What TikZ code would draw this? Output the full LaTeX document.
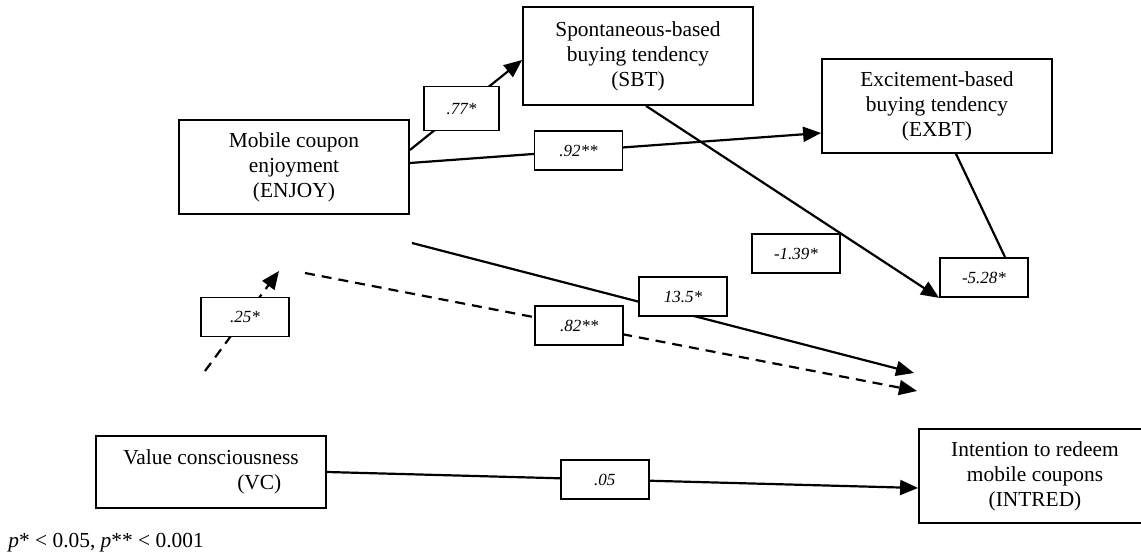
\documentclass[tikz,border=0pt]{standalone}
\usepackage{fontspec}
\setmainfont{Liberation Serif}
\usetikzlibrary{arrows.meta,positioning,calc}
\tikzset{
  >={Triangle[length=9pt,width=7.5pt]},
  construct/.style={draw,line width=0.9pt,minimum width=115pt,minimum height=#1,align=center,
    inner sep=2pt,font=\fontsize{10.7}{12.5}\selectfont},
  construct/.default=47pt,
  coef/.style={draw,solid,line width=0.9pt,fill=white,minimum width=44pt,minimum height=19.5pt,
    inner sep=1pt,font=\fontsize{8.5}{9}\selectfont\itshape},
  link/.style={->,line width=1.1pt},
  weak link/.style={link,dash pattern=on 5pt off 3.5pt},
}
\begin{document}
\begin{tikzpicture}[x=0.5pt,y=-0.5pt]
  \useasboundingbox (0,0) rectangle (1141,560);
  % constructs
  \node[construct] (ENJOY) at (294,167) {Mobile coupon\\enjoyment\\(ENJOY)};
  \node[construct=49pt] (SBT) at (638,56) {Spontaneous-based\\buying tendency\\(SBT)};
  \node[construct] (EXBT) at (937,106) {Excitement-based\\buying tendency\\(EXBT)};
  \node[construct=36pt,align=left] (VC) at (211,472) {Value consciousness\\\hspace*{57pt}(VC)};
  \node[construct,minimum width=116pt] (INTRED) at (1035,476) {Intention to redeem\\mobile coupons\\(INTRED)};
  % free ends of the moderation paths
  \coordinate (moderator) at (205,371);
  \coordinate (interaction) at (279,271);
  \coordinate (direct) at (412,243);
  \coordinate (direct end) at (914,373);
  \coordinate (moderated) at (305,273);
  \coordinate (moderated end) at (917,391);
  % paths
  \draw[link] ([yshift=8.5pt]ENJOY.east) -- node[coef,pos=.46,minimum width=37.5pt,minimum height=22pt] (c77) {.77*} ([yshift=-2pt]SBT.west);
  \draw[link] ([yshift=2pt]ENJOY.east) -- node[coef,pos=.41] (c92) {.92**} ([yshift=-13.5pt]EXBT.west);
  \draw[link] (direct) -- (direct end);
  \node[coef] (c135) at (683,296.5) {13.5*};
  \draw[weak link] (moderated) -- node[coef,pos=.448] (c82) {.82**} (moderated end);
  \draw[weak link] (moderator) -- node[coef,pos=.54] (c25) {.25*} (interaction);
  \node[coef] (c139) at (796,253.5) {-1.39*};
  \node[coef] (c528) at (984,277.5) {-5.28*};
  \draw[link] ([xshift=4pt]SBT.south) -- (c528.south west);
  \draw[line width=1.1pt] ([xshift=9.5pt]EXBT.south) -- ([xshift=10.5pt]c528.north);
  \draw[link] (VC.east) -- node[coef,pos=.47] (c05) {.05} ([yshift=-6pt]INTRED.west);
  % significance note
  \node[anchor=base west,inner sep=0pt,font=\fontsize{10.7}{12.5}\selectfont] (note) at (8,548) {\textit{p}* < 0.05, \textit{p}** < 0.001};
\end{tikzpicture}
\end{document}
